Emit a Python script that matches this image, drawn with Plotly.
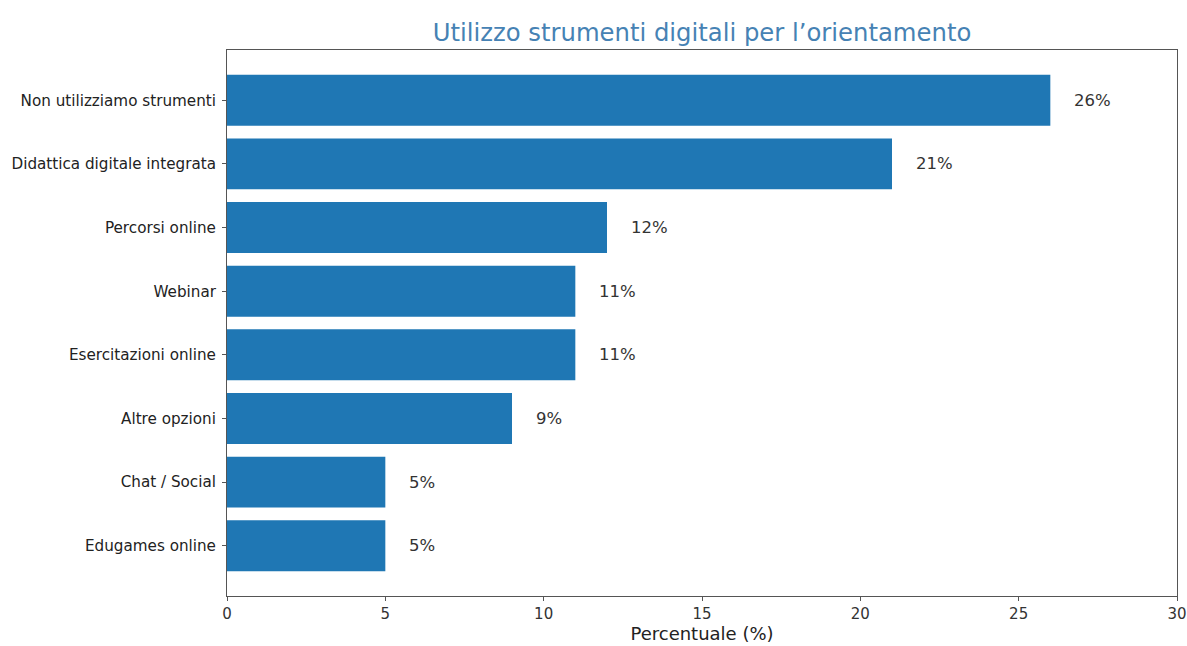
import plotly.graph_objects as go

categories = ["Edugames online", "Chat / Social", "Altre opzioni", "Esercitazioni online",
              "Webinar", "Percorsi online", "Didattica digitale integrata", "Non utilizziamo strumenti"]
values = [5, 5, 9, 11, 11, 12, 21, 26]
labels = [f"{v}%" for v in values]

FONT = "DejaVu Sans"
fig = go.Figure(go.Bar(
    x=values, y=categories, orientation="h",
    marker=dict(color="#1f77b4", line=dict(width=0)),
    width=0.8, hoverinfo="skip",
))

for c, v, t in zip(categories, values, labels):
    fig.add_annotation(x=v, y=c, text=t, showarrow=False, xanchor="left",
                       xshift=22, font=dict(family=FONT, size=16.5, color="#333333"))

fig.update_layout(
    width=1199, height=652,
    margin=dict(l=226, r=12, t=50, b=49),
    paper_bgcolor="white", plot_bgcolor="white",
    title=dict(text="Utilizzo strumenti digitali per l’orientamento", x=0.5, xref="paper",
               y=1 - 32 / 646, yref="container", yanchor="middle",
               font=dict(family=FONT, size=24.3, color="#4682b4")),
    showlegend=False,
)
fig.update_xaxes(range=[0, 30], tickvals=[0, 5, 10, 15, 20, 25, 30],
                 showgrid=False, zeroline=False,
                 showline=True, linecolor="#555555", linewidth=1, mirror=True,
                 ticks="outside", ticklen=4, tickcolor="#555555",
                 tickfont=dict(family=FONT, size=15, color="#333333"),
                 title=dict(text="Percentuale (%)", font=dict(family=FONT, size=18, color="#222222"), standoff=4))
fig.update_yaxes(range=[-0.79, 7.79], showgrid=False, zeroline=False,
                 showline=True, linecolor="#555555", linewidth=1, mirror=True,
                 ticks="outside", ticklen=4, tickcolor="#555555", ticklabelstandoff=3,
                 tickfont=dict(family=FONT, size=15.2, color="#222222"))

fig.write_html("out.html", config={"displayModeBar": False},
               post_script="document.body.style.margin='0';document.body.style.overflow='hidden';")
